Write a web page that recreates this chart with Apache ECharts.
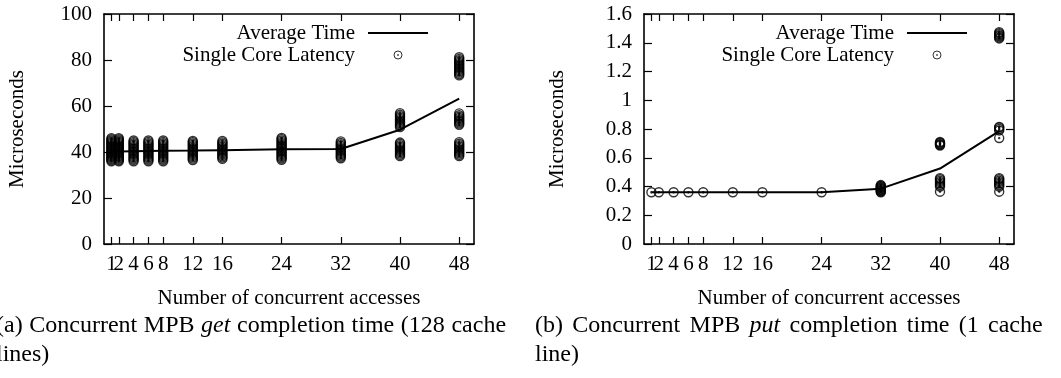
<!DOCTYPE html>
<html><head><meta charset="utf-8">
<script src="https://cdn.jsdelivr.net/npm/echarts@6/dist/echarts.min.js"></script>
<style>html,body{margin:0;padding:0;background:#fff}#c{width:1061px;height:378px}</style>
</head><body><div id="c"></div>
<script>
// ---- data ----
const xTicks = [1, 2, 4, 6, 8, 12, 16, 24, 32, 40, 48];
const getAvg = [40.2, 40.2, 40.3, 40.4, 40.5, 40.6, 40.8, 41.2, 41.3, 49.7, 63.2];
const getLatency = [
  [36, 36.5, 37, 37.5, 38, 38.5, 39, 39.5, 40, 40.5, 41, 41.5, 42, 42.5, 43, 43.5, 44, 44.5, 45, 45.5, 46],
  [36, 36.5, 37, 37.5, 38, 38.5, 39, 39.5, 40, 40.5, 41, 41.5, 42, 42.5, 43, 43.5, 44, 44.5, 45, 45.5, 46],
  [36, 36.6, 37.2, 37.8, 38.4, 39, 39.6, 40.2, 40.8, 41.4, 42, 42.6, 43.2, 43.8, 44.4, 45],
  [36, 36.6, 37.2, 37.8, 38.4, 39, 39.6, 40.2, 40.8, 41.4, 42, 42.6, 43.2, 43.8, 44.4, 45],
  [36, 36.6, 37.2, 37.8, 38.4, 39, 39.6, 40.2, 40.8, 41.4, 42, 42.6, 43.2, 43.8, 44.4, 45],
  [36.5, 37.1, 37.7, 38.3, 38.9, 39.5, 40.1, 40.7, 41.3, 41.9, 42.5, 43.1, 43.7, 44.3, 44.8],
  [37, 37.6, 38.2, 38.8, 39.4, 40, 40.6, 41.2, 41.8, 42.4, 43, 43.6, 44.2, 44.8],
  [36.6, 37.2, 37.8, 38.4, 39, 39.6, 40.2, 40.8, 41.4, 42, 42.6, 43.2, 43.8, 44.4, 45, 45.6, 46.1],
  [37.3, 37.9, 38.5, 39.1, 39.7, 40.3, 40.9, 41.5, 42.1, 42.7, 43.3, 43.9, 44.6],
  [38.2, 38.8, 39.4, 40, 40.6, 41.2, 41.8, 42.4, 43, 43.6, 44.1,
   50.8, 51.4, 52, 52.6, 53.2, 53.8, 54.4, 55, 55.6, 56.2, 56.9],
  [38.2, 38.8, 39.4, 40, 40.6, 41.2, 41.8, 42.4, 43, 43.6, 44.3,
   51.8, 52.4, 53, 53.6, 54.2, 54.8, 55.4, 56, 56.8,
   73.3, 73.9, 74.5, 75.1, 75.7, 76.3, 76.9, 77.5, 78.1, 78.7, 79.3, 79.9, 80.5, 81.2]
];
const putAvg = [0.36, 0.36, 0.36, 0.36, 0.36, 0.36, 0.36, 0.36, 0.385, 0.525, 0.785];
const putLatency = [
  [0.36], [0.36], [0.36], [0.36], [0.36], [0.36], [0.36], [0.36],
  [0.36, 0.365, 0.37, 0.375, 0.38, 0.385, 0.39, 0.395, 0.40, 0.405, 0.41],
  [0.364, 0.40, 0.41, 0.42, 0.43, 0.44, 0.45, 0.458, 0.685, 0.69, 0.695, 0.70, 0.705, 0.71],
  [0.364, 0.40, 0.41, 0.42, 0.43, 0.44, 0.45, 0.458, 0.737, 0.79, 0.80, 0.81, 0.815,
   1.43, 1.437, 1.445, 1.452, 1.46, 1.467, 1.474]
];
const getYTicks = { min: 0, max: 100, interval: 20 };
const putYTicks = { min: 0, max: 1.6, interval: 0.2 };
const xRange = { min: 0, max: 50 };
const captionA = ['(a)', 'Concurrent', 'MPB', '*get', 'completion', 'time', '(128', 'cache'];
const captionA2 = 'lines)';
const captionB = ['(b)', 'Concurrent', 'MPB', '*put', 'completion', 'time', '(1', 'cache'];
const captionB2 = 'line)';

// ---- styling ----
const FONT = 'Liberation Serif';
const FS = 21;
const CIRC = 'path://M0,-10A10,10,0,1,1,0,10A10,10,0,1,1,0,-10ZM0,-1.2A1.2,1.2,0,1,1,0,1.2A1.2,1.2,0,1,1,0,-1.2Z';
const axisLine = { show: true, onZero: false, lineStyle: { color: '#000', width: 1.6 } };
const tickStyle = { color: '#000', width: 1.2 };
const labelStyle = { color: '#000', fontFamily: FONT, fontSize: FS, margin: 10, hideOverlap: false };

// 3 x axes per grid: bottom (ticks + labels 2..48), top (mirror ticks), bottom label "1" only
// (the "1" and "2" labels overlap in the original, ECharts would otherwise drop one)
function xAxes(g) {
  const base = {
    type: 'value', gridIndex: g, min: xRange.min, max: xRange.max,
    axisLine: axisLine, splitLine: { show: false }
  };
  return [
    Object.assign({}, base, {
      position: 'bottom',
      axisTick: { show: true, inside: true, length: 7, customValues: xTicks, lineStyle: tickStyle },
      axisLabel: Object.assign({ show: true, customValues: xTicks.slice(1) }, labelStyle),
      name: 'Number of concurrent accesses', nameLocation: 'middle', nameGap: 44,
      nameTextStyle: { color: '#000', fontFamily: FONT, fontSize: FS }
    }),
    Object.assign({}, base, {
      position: 'top',
      axisTick: { show: true, inside: true, length: 7, customValues: xTicks, lineStyle: tickStyle },
      axisLabel: { show: false }
    }),
    Object.assign({}, base, {
      position: 'bottom',
      axisLine: { show: false, onZero: false },
      axisTick: { show: false },
      axisLabel: Object.assign({ show: true, customValues: xTicks.slice(0, 1), showMinLabel: true }, labelStyle)
    })
  ];
}
function yAxes(g, t) {
  const base = {
    type: 'value', gridIndex: g, min: t.min, max: t.max, interval: t.interval,
    axisLine: axisLine, splitLine: { show: false },
    axisTick: { show: true, inside: true, length: 8, lineStyle: tickStyle }
  };
  return [
    Object.assign({}, base, {
      position: 'left',
      axisLabel: { show: true, margin: 12, color: '#000', fontFamily: FONT, fontSize: FS },
      name: 'Microseconds', nameLocation: 'middle', nameGap: 76, nameRotate: 90,
      nameTextStyle: { color: '#000', fontFamily: FONT, fontSize: FS }
    }),
    Object.assign({}, base, { position: 'right', axisLabel: { show: false } })
  ];
}
function seriesFor(g, avg, lat) {
  const pts = [];
  lat.forEach((vals, i) => vals.forEach(v => pts.push([xTicks[i], v])));
  return [
    {
      type: 'line', name: 'Average Time', xAxisIndex: g * 3, yAxisIndex: g * 2,
      data: xTicks.map((x, i) => [x, avg[i]]), symbol: 'none', showSymbol: false,
      lineStyle: { color: '#000', width: 2 }, itemStyle: { color: '#000' }, z: 2, silent: true
    },
    {
      type: 'scatter', name: 'Single Core Latency', xAxisIndex: g * 3, yAxisIndex: g * 2,
      data: pts, symbol: CIRC, symbolSize: 9, symbolKeepAspect: true,
      itemStyle: { color: 'rgba(0,0,0,0)', borderColor: '#000', borderWidth: 1.4 }, z: 3, silent: true
    }
  ];
}
function legendFor(right) {
  return {
    orient: 'vertical', right: right, top: 22, padding: 0, itemGap: 0,
    itemWidth: 60, itemHeight: 8, align: 'right', selectedMode: false,
    textStyle: { color: '#000', fontFamily: FONT, fontSize: FS, lineHeight: 22, padding: [0, 8, 0, 0] },
    data: [
      { name: 'Average Time', lineStyle: { color: '#000', width: 2 }, itemStyle: { opacity: 0 } },
      { name: 'Single Core Latency', icon: CIRC, itemStyle: { color: 'rgba(0,0,0,0)', borderColor: '#000', borderWidth: 1 } }
    ]
  };
}
// justified caption line: words joined by fixed-width space tokens
function capLine(words, space) {
  return words.map(w => w[0] === '*' ? '{i|' + w.slice(1) + '}' : '{n|' + w + '}').join('{' + space + '| }');
}
const capRich = {
  n: { fontFamily: FONT, fontSize: 24, fill: '#000' },
  i: { fontFamily: FONT, fontSize: 24, fontStyle: 'italic', fill: '#000' },
  sa: { fontFamily: FONT, fontSize: 24, width: 6.6 },
  sb: { fontFamily: FONT, fontSize: 24, width: 9.3 }
};

const chart = echarts.init(document.getElementById('c'), null, { renderer: 'canvas' });
chart.setOption({
  animation: false,
  backgroundColor: '#fff',
  grid: [
    { left: 104, top: 14, width: 370, height: 230 },
    { left: 644, top: 14, width: 370, height: 230 }
  ],
  xAxis: xAxes(0).concat(xAxes(1)),
  yAxis: yAxes(0, getYTicks).concat(yAxes(1, putYTicks)),
  legend: [legendFor(632), legendFor(93)],
  series: seriesFor(0, getAvg, getLatency).concat(seriesFor(1, putAvg, putLatency)),
  graphic: [
    { type: 'text', x: -4, y: 314, style: { text: capLine(captionA, 'sa'), rich: capRich } },
    { type: 'text', x: -4, y: 343, style: { text: '{n|' + captionA2 + '}', rich: capRich } },
    { type: 'text', x: 535, y: 314, style: { text: capLine(captionB, 'sb'), rich: capRich } },
    { type: 'text', x: 535, y: 343, style: { text: '{n|' + captionB2 + '}', rich: capRich } }
  ]
});
</script></body></html>
